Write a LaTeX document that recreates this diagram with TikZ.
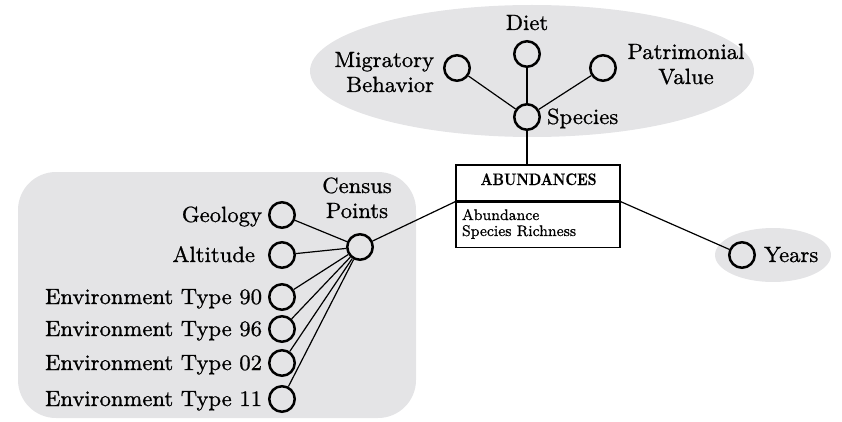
\documentclass[tikz,border=0pt]{standalone}
\usepackage{graphicx}
\usepackage{fontspec}
\definecolor{groupfill}{RGB}{228,228,230}
% slightly heavier optical-size faces for the labels
\newfontfamily\lblfont{lmroman9-regular.otf}[FakeBold=0.8]
\newfontfamily\headfont{lmroman10-bold.otf}[FakeBold=0.5]
% text set at a small optical size, then enlarged
\newcommand\lbl[2][c]{\scalebox{2.45}{\lblfont\fontsize{9}{10.2}\selectfont\begin{tabular}[t]{@{}#1@{}}#2\end{tabular}}}
\newcommand\boxtxt[1]{\scalebox{1.7}{\lblfont\fontsize{9}{9.4}\selectfont\begin{tabular}[t]{@{}l@{}}#1\end{tabular}}}
\newcommand\boxhead[1]{\scalebox{1.55}[1.85]{\headfont\fontsize{9}{10}\selectfont #1}}
\begin{document}
\begin{tikzpicture}[x=1pt,y=-1pt,
  attr/.style={circle,draw,line width=2.5pt,minimum size=25.5pt,inner sep=0pt},
  link/.style={line width=1.2pt},
  group/.style={fill=groupfill},
  txt/.style={inner sep=0pt,outer sep=0pt}]
\useasboundingbox (0,0) rectangle (842,422);

% shaded groups
\fill[group] (532,71) ellipse [x radius=222pt, y radius=66pt];
\fill[group,rounded corners=38pt] (18,172) rectangle (416,418);
\fill[group] (773,255) ellipse [x radius=58pt, y radius=27pt];

% central entity
\node[draw,line width=1.2pt,minimum width=164pt,minimum height=36pt,inner sep=0pt,fill=white] (head) at (538,183) {};
\node[draw,line width=1.2pt,minimum width=164pt,minimum height=45pt,inner sep=0pt,fill=white,anchor=north] (body) at (head.south) {};
\node[txt,anchor=base] (headtxt) at (538.5,185) {\boxhead{ABUNDANCES}};
\node[txt,anchor=base west] (bodytxt) at (462,220) {\boxtxt{Abundance\\Species Richness}};

% species group
\node[attr] (species) at (527,117) {};
\node[attr] (diet) at (527,54) {};
\node[attr] (mig) at (457,68) {};
\node[attr] (pat) at (603,68) {};
\node[txt,anchor=base west] (speciesL) at (547,124) {\lbl{Species}};
\node[txt,anchor=base] (dietL) at (527,30) {\lbl{Diet}};
\node[txt,anchor=base east] (migL) at (434,67) {\lbl[r]{Migratory\\Behavior}};
\node[txt,anchor=base] (patL) at (686,59) {\lbl{Patrimonial\\Value}};

% census group
\node[attr] (census) at (360,247) {};
\node[txt,anchor=base] (censusL) at (357,193) {\lbl{Census\\Points}};
\node[attr] (geo) at (282,215) {};
\node[attr] (alt) at (282,255) {};
\node[attr] (e90) at (282,297) {};
\node[attr] (e96) at (282,329) {};
\node[attr] (e02) at (282,363) {};
\node[attr] (e11) at (282,399) {};
\node[txt,anchor=base east] (geoL) at (262,222) {\lbl{Geology}};
\node[txt,anchor=base east] (altL) at (255,262) {\lbl{Altitude}};
\node[txt,anchor=base east] (e90L) at (262,304) {\lbl{Environment Type 90}};
\node[txt,anchor=base east] (e96L) at (262,336) {\lbl{Environment Type 96}};
\node[txt,anchor=base east] (e02L) at (262,370) {\lbl{Environment Type 02}};
\node[txt,anchor=base east] (e11L) at (262,406) {\lbl{Environment Type 11}};

% years
\node[attr] (years) at (742,255) {};
\node[txt,anchor=base west] (yearsL) at (764,262) {\lbl{Years}};

% connectors
\draw[link] (mig) -- (species);
\draw[link] (diet) -- (species);
\draw[link] (pat) -- (species);
\draw[link] (species) -- (species |- head.north);
\draw[link] (head.south west) -- (census);
\draw[link] (head.south east) -- (years);
\foreach \n in {geo,alt,e90,e96,e02,e11}
  \draw[link] (\n) -- (census);
\end{tikzpicture}
\end{document}
